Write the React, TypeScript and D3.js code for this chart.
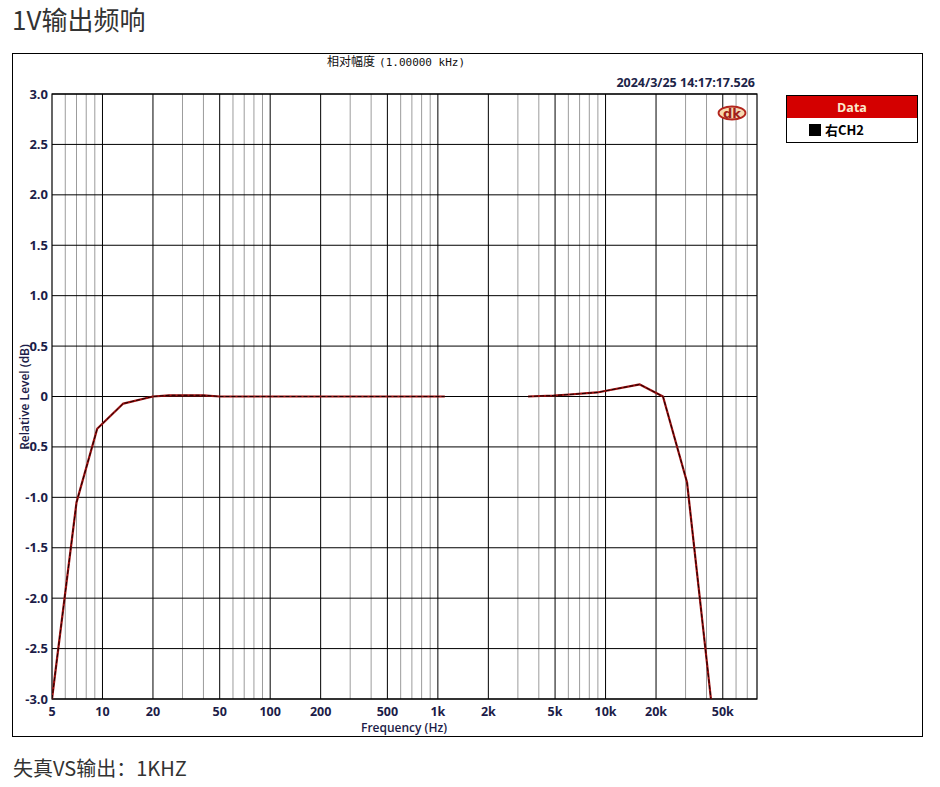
import React from "react";
import * as d3 from "d3";

const lowFreq = [5, 7, 9.3, 13.3, 20, 25, 40, 50, 100, 200, 500, 1000, 1100];
const lowDb = [-3.0, -1.05, -0.32, -0.07, 0.0, 0.012, 0.012, 0.0, 0.0, 0.0, 0.0, 0.0, 0.0];
const highFreq = [3450, 4900, 6100, 8900, 16000, 22000, 30600, 42500];
const highDb = [0.0, 0.01, 0.02, 0.04, 0.12, 0.0, -0.85, -3.0];

const xTickValues = [5, 10, 20, 50, 100, 200, 500, 1000, 2000, 5000, 10000, 20000, 50000];
const xTickLabels = ["5", "10", "20", "50", "100", "200", "500", "1k", "2k", "5k", "10k", "20k", "50k"];
const yTickValues = [3, 2.5, 2, 1.5, 1, 0.5, 0, -0.5, -1, -1.5, -2, -2.5, -3];
const yTickLabels = ["3.0", "2.5", "2.0", "1.5", "1.0", "0.5", "0", "-0.5", "-1.0", "-1.5", "-2.0", "-2.5", "-3.0"];

const PL = 52, PR = 757, PT = 94, PB = 699;

export default function App() {
  const x = d3.scaleLog().domain([5, 80000]).range([PL, PR]);
  const y = d3.scaleLinear().domain([-3, 3]).range([PB, PT]);

  const minor: number[] = [];
  const major: number[] = [];
  for (let dec = 1; dec <= 10000; dec *= 10) {
    for (let m = 1; m <= 9; m++) {
      const v = dec * m;
      if (v <= 5 || v >= 80000) continue;
      if (m === 1 || m === 2 || m === 5) major.push(v);
      else minor.push(v);
    }
  }

  const line = d3
    .line<[number, number]>()
    .x((d) => x(d[0]))
    .y((d) => y(d[1]));
  const lowPts = lowFreq.map((f, i) => [f, lowDb[i]] as [number, number]);
  const highPts = highFreq.map((f, i) => [f, highDb[i]] as [number, number]);

  const navy = "#1c1c48";
  const tickFont = "'Open Sans', 'Liberation Sans', sans-serif";

  return (
    <svg
      width={940}
      height={787}
      style={{ position: "absolute", left: 0, top: 0, background: "#fff" }}
    >
      <rect x={0} y={0} width={940} height={787} fill="#fff" />
      <text x={12} y={30} fontFamily="'Noto Sans CJK SC', sans-serif" fontSize={26} fill="#333">
        1V输出频响
      </text>

      <rect x={12.5} y={53.5} width={910} height={683} fill="#fff" stroke="#000" strokeWidth={1} />

      <text x={327} y={66} fontSize={12} fill="#111">
        <tspan fontFamily="'Noto Sans CJK SC', sans-serif">相对幅度</tspan>
        <tspan fontFamily="'DejaVu Sans Mono', monospace" fontSize={11} dx={4}>
          (1.00000 kHz)
        </tspan>
      </text>
      <text x={755} y={87} textAnchor="end" fontFamily={tickFont} fontWeight={700} fontSize={12.5} fill="#1c2448">
        2024/3/25 14:17:17.526
      </text>

      {/* grid */}
      {minor.map((v) => (
        <line key={"mi" + v} x1={x(v)} x2={x(v)} y1={PT} y2={PB} stroke="#9c9c9c" strokeWidth={1} />
      ))}
      {major.map((v) => (
        <line key={"ma" + v} x1={x(v)} x2={x(v)} y1={PT} y2={PB} stroke="#000" strokeWidth={1} />
      ))}
      {yTickValues.map((v) => (
        <line key={"h" + v} x1={PL} x2={PR} y1={y(v)} y2={y(v)} stroke="#000" strokeWidth={1} />
      ))}
      <rect x={PL} y={PT} width={PR - PL} height={PB - PT} fill="none" stroke="#000" strokeWidth={1.2} />

      {/* logo */}
      <g>
        <ellipse cx={732} cy={113} rx={13.5} ry={6.5} fill="#f6d9b0" stroke="#b3261e" strokeWidth={1.8} />
        <text x={732} y={118} textAnchor="middle" fontFamily="'DejaVu Sans', sans-serif" fontWeight={700} fontSize={13} fill="#a0201a">
          dk
        </text>
      </g>

      {/* curve */}
      <defs>
        <clipPath id="plotclip">
          <rect x={PL} y={PT - 2} width={PR - PL} height={PB - PT + 4} />
        </clipPath>
      </defs>
      <g clipPath="url(#plotclip)">
        {[lowPts, highPts].map((pts, i) => (
          <g key={"c" + i}>
            <path d={line(pts) || ""} fill="none" stroke="#9a1010" strokeWidth={2.2} strokeLinejoin="round" />
            <path d={line(pts) || ""} fill="none" stroke="#1a0000" strokeWidth={1} strokeDasharray="4,2" />
          </g>
        ))}
      </g>

      {/* y ticks */}
      {yTickValues.map((v, i) => (
        <text
          key={"yt" + v}
          x={48}
          y={y(v)}
          dy="0.35em"
          textAnchor="end"
          fontFamily={tickFont}
          fontWeight={700}
          fontSize={13}
          fill={navy}
        >
          {yTickLabels[i]}
        </text>
      ))}
      <text
        transform="translate(29,397) rotate(-90)"
        textAnchor="middle"
        fontFamily={tickFont}
        fontWeight={600}
        fontSize={12}
        fill={navy}
      >
        Relative Level (dB)
      </text>

      {/* x ticks */}
      {xTickValues.map((v, i) => (
        <text
          key={"xt" + v}
          x={x(v)}
          y={716}
          textAnchor="middle"
          fontFamily={tickFont}
          fontWeight={700}
          fontSize={12.5}
          fill={navy}
        >
          {xTickLabels[i]}
        </text>
      ))}
      <text x={404} y={732} textAnchor="middle" fontFamily={tickFont} fontWeight={600} fontSize={12} fill={navy}>
        Frequency (Hz)
      </text>

      {/* legend */}
      <rect x={786.5} y={95.5} width={131} height={47} fill="#fff" stroke="#000" strokeWidth={1} />
      <rect x={787} y={96} width={130} height={22} fill="#d40000" />
      <text x={852} y={112} textAnchor="middle" fontFamily={tickFont} fontWeight={700} fontSize={12.5} fill="#fbe9cc">
        Data
      </text>
      <rect x={809} y={124} width={12} height={12} fill="#000" />
      <text x={825} y={135} fontFamily="'Noto Sans CJK SC', sans-serif" fontWeight={700} fontSize={13} fill="#000">
        右CH2
      </text>

      <text x={13} y={776} fontFamily="'Noto Sans CJK SC', sans-serif" fontSize={20} fill="#333">
        失真VS输出：1KHZ
      </text>
    </svg>
  );
}
